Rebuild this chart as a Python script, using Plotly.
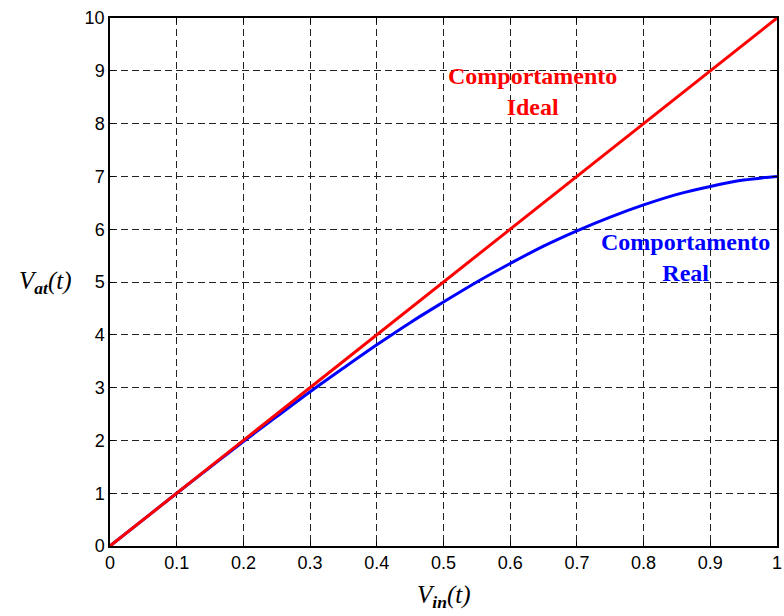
import plotly.graph_objects as go

# Input voltage samples
v_in = [0.0, 0.05, 0.1, 0.15, 0.2, 0.25, 0.3, 0.35, 0.4, 0.45, 0.5,
        0.55, 0.6, 0.65, 0.7, 0.75, 0.8, 0.85, 0.9, 0.95, 1.0]

# Ideal (linear) behaviour
v_ideal = [0.0, 0.5, 1.0, 1.5, 2.0, 2.5, 3.0, 3.5, 4.0, 4.5, 5.0,
           5.5, 6.0, 6.5, 7.0, 7.5, 8.0, 8.5, 9.0, 9.5, 10.0]

# Real (saturating) behaviour
v_real = [0.0, 0.50, 1.00, 1.49, 1.98, 2.45, 2.92, 3.37, 3.81, 4.23, 4.62,
          5.00, 5.35, 5.68, 5.97, 6.23, 6.46, 6.66, 6.81, 6.93, 7.00]

x_ticks = [0, 0.1, 0.2, 0.3, 0.4, 0.5, 0.6, 0.7, 0.8, 0.9, 1]
x_tick_text = ["0", "0.1", "0.2", "0.3", "0.4", "0.5", "0.6", "0.7", "0.8", "0.9", "1"]
y_ticks = [0, 1, 2, 3, 4, 5, 6, 7, 8, 9, 10]

fig = go.Figure()
fig.add_trace(go.Scatter(x=v_in, y=v_real, mode="lines", line=dict(color="#0000ff", width=3, shape="spline"),
                         showlegend=False))
fig.add_trace(go.Scatter(x=v_in, y=v_ideal, mode="lines", line=dict(color="#ff0000", width=3),
                         showlegend=False))

axis_common = dict(
    showline=True, linecolor="black", linewidth=1.5, mirror="ticks",
    ticks="inside", ticklen=5, tickcolor="black", tickwidth=1,
    showgrid=True, gridcolor="#222222", gridwidth=1, griddash="7px,4px",
    zeroline=False, ticklabeloverflow="allow",
    tickfont=dict(family="Liberation Sans, Arial", size=18, color="black"),
)

fig.update_xaxes(range=[0, 1], tickvals=x_ticks, ticktext=x_tick_text, **axis_common)
fig.update_yaxes(range=[0, 10], tickvals=y_ticks, **axis_common)

serif = "Liberation Serif, Times New Roman"
fig.add_annotation(x=0.633, y=8.6, xref="x", yref="y", showarrow=False,
                   text="<b>Comportamento<br>Ideal</b>",
                   font=dict(family=serif, size=24, color="#ff0000"))
fig.add_annotation(x=0.863, y=5.47, xref="x", yref="y", showarrow=False,
                   text="<b>Comportamento<br>Real</b>",
                   font=dict(family=serif, size=24, color="#0000ff"))

# Axis titles
fig.add_annotation(x=-0.097, y=0.5, xref="paper", yref="paper", showarrow=False, xanchor="center",
                   text="<i>V</i><sub><b><i>at</i></b></sub><i>(t)</i>",
                   font=dict(family=serif, size=25, color="black"))
fig.add_annotation(x=0.5, y=-0.095, xref="paper", yref="paper", showarrow=False, yanchor="middle",
                   text="<i>V</i><sub><b><i>in</i></b></sub><i>(t)</i>",
                   font=dict(family=serif, size=25, color="black"))

fig.update_layout(
    width=784, height=616,
    margin=dict(l=110, r=2, t=18, b=70),
    plot_bgcolor="white", paper_bgcolor="white",
)

fig.write_html("out.html")
